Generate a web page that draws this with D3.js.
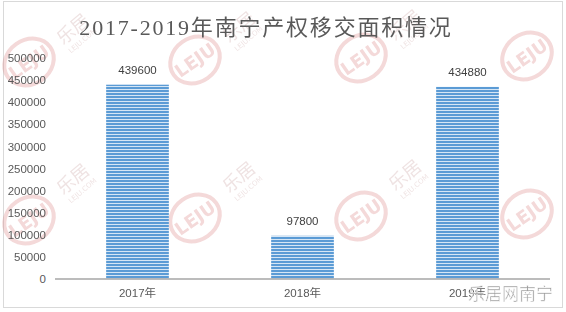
<!DOCTYPE html>
<html>
<head>
<meta charset="utf-8">
<script src="https://cdn.jsdelivr.net/npm/d3@7"></script>
<style>
  body { margin: 0; background: #fff; }
  svg { display: block; }
</style>
</head>
<body>
<div id="chart"></div>
<script>
const title = "2017-2019年南宁产权移交面积情况"
const categories = ["2017年", "2018年", "2019年"]
const values = [439600, 97800, 434880]
const yTicks = [0, 50000, 100000, 150000, 200000, 250000, 300000, 350000, 400000, 450000, 500000]

const W = 566, H = 312
const margin = {top: 58, right: 16, bottom: 33, left: 55}

const svg = d3.select("#chart").append("svg")
    .attr("width", W).attr("height", H)

// stripes for the bars
const defs = svg.append("defs")
const pat = defs.append("pattern")
    .attr("id", "stripe")
    .attr("patternUnits", "userSpaceOnUse")
    .attr("width", 6).attr("height", 3)
pat.append("rect").attr("width", 6).attr("height", 3).attr("fill", "#d6e6f5")
pat.append("rect").attr("width", 6).attr("height", 2).attr("fill", "#5b9bd5")

svg.append("rect")
    .attr("x", 3.5).attr("y", 1.5)
    .attr("width", 559).attr("height", 306)
    .attr("fill", "#fff").attr("stroke", "#d9d9d9")

// watermark layer
const wm = svg.append("g").attr("opacity", 0.3)
const wmX = [29, 195, 361, 527], wmY = [62, 220]
wmY.forEach((cy, r) => {
  wmX.forEach((cx, c) => {
    const y0 = cy - c * 2
    const g = wm.append("g").attr("transform", `translate(${cx},${y0}) rotate(-35)`)
    g.append("ellipse").attr("rx", 26).attr("ry", 22)
        .attr("fill", "none").attr("stroke", "#d98080").attr("stroke-width", 4)
    g.append("text").text("LEJU")
        .attr("text-anchor", "middle").attr("dy", "0.36em")
        .attr("font-family", "DejaVu Sans").attr("font-weight", "bold")
        .attr("font-size", 18).attr("fill", "#d98080")
    if (c === wmX.length - 1) return
    const t = wm.append("g").attr("transform", `translate(${cx + 48},${y0 - (r ? 36 : 28)}) rotate(-40)`)
    t.append("text").text("乐居")
        .attr("text-anchor", "middle")
        .attr("font-family", "Noto Sans CJK SC").attr("font-size", 18)
        .attr("fill", "#c9a0a0")
    t.append("text").text("LEJU.COM")
        .attr("text-anchor", "middle").attr("y", 11)
        .attr("font-family", "DejaVu Sans").attr("font-size", 7)
        .attr("fill", "#c9a0a0")
  })
})

const x = d3.scaleBand()
    .domain(categories)
    .range([margin.left, W - margin.right])
    .paddingInner(0.62)
    .paddingOuter(0.31)

const y = d3.scaleLinear()
    .domain([0, 500000])
    .range([H - margin.bottom, margin.top])

svg.append("text")
    .attr("x", 266).attr("y", 35)
    .attr("text-anchor", "middle")
    .attr("font-family", "Liberation Serif, 'Noto Sans CJK SC', serif")
    .attr("font-size", 22)
    .attr("letter-spacing", 1.8)
    .attr("fill", "#595959")
    .text(title)

// y axis labels only
const yAxis = svg.append("g")
    .attr("transform", `translate(${margin.left},0)`)
    .call(d3.axisLeft(y).tickValues(yTicks).tickFormat(d3.format("d")).tickSize(0).tickPadding(9))
yAxis.select(".domain").remove()
yAxis.selectAll("text")
    .attr("font-family", "Liberation Sans, Arial, sans-serif")
    .attr("font-size", 11.5)
    .attr("fill", "#595959")

svg.append("g")
  .selectAll("rect")
  .data(values)
  .join("rect")
    .attr("x", (d, i) => x(categories[i]))
    .attr("y", d => y(d))
    .attr("width", x.bandwidth())
    .attr("height", d => y(0) - y(d))
    .attr("fill", "url(#stripe)")

svg.append("g")
  .selectAll("text")
  .data(values)
  .join("text")
    .attr("x", (d, i) => x(categories[i]) + x.bandwidth() / 2)
    .attr("y", d => y(d) - 11)
    .attr("text-anchor", "middle")
    .attr("font-family", "Liberation Sans, Arial, sans-serif")
    .attr("font-size", 11.5)
    .attr("fill", "#404040")
    .text(d => d)

// x axis
const xAxis = svg.append("g")
    .attr("transform", `translate(0,${y(0)})`)
    .call(d3.axisBottom(x).tickSize(0).tickPadding(10))
xAxis.select(".domain")
    .attr("stroke", "#a6a6a6").attr("stroke-width", 1.5)
    .attr("d", `M${margin.left},0H${W - margin.right}`)
xAxis.selectAll("text")
    .attr("font-family", "Liberation Sans, 'Noto Sans CJK SC', sans-serif")
    .attr("font-size", 11.5)
    .attr("fill", "#595959")

svg.append("text")
    .attr("x", 553).attr("y", 300)
    .attr("text-anchor", "end")
    .attr("font-family", "Noto Sans CJK SC")
    .attr("font-size", 17)
    .attr("fill", "#9a9a9a")
    .attr("stroke", "#fff").attr("stroke-width", 0.5)
    .text("乐居网南宁")
</script>
</body>
</html>
